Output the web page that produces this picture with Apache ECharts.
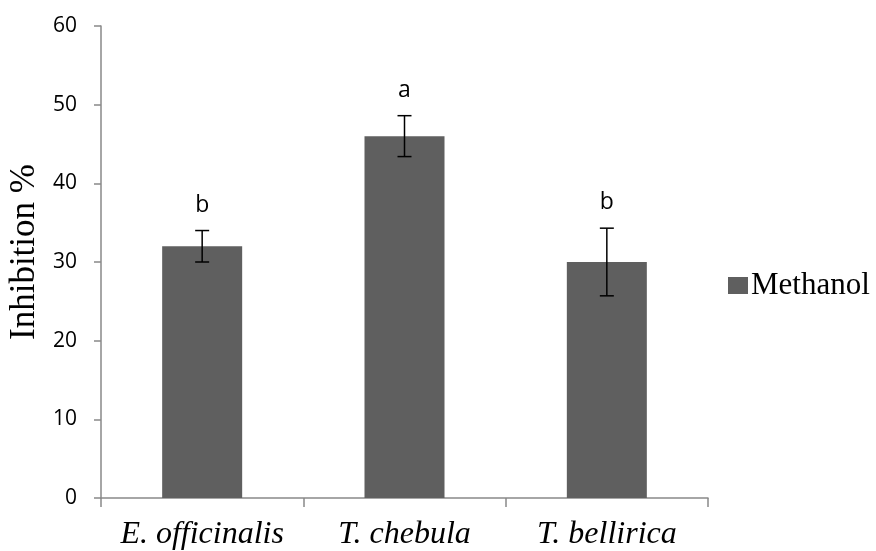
<!DOCTYPE html>
<html><head><meta charset="utf-8">
<script src="https://cdn.jsdelivr.net/npm/echarts@6/dist/echarts.min.js"></script>
<style>html,body{margin:0;padding:0;background:#fff}#c{width:876px;height:551px}</style>
</head><body><div id="c"></div>
<script>
const categories = ['E. officinalis', 'T. chebula', 'T. bellirica'];
const methanol = [32, 46, 30];
const errors = [2, 2.6, 4.3];
const letters = ['b', 'a', 'b'];
const yTicks = [0, 10, 20, 30, 40, 50, 60];

const chart = echarts.init(document.getElementById('c'));
const errData = methanol.map((v, i) => [i, v - errors[i], v + errors[i], letters[i]]);
chart.setOption({
  animation: false,
  grid: { left: 101, right: 168, top: 26, bottom: 53, containLabel: false, outerBoundsMode: 'none' },
  legend: {
    left: 728, top: 270, padding: 0, itemWidth: 20, itemHeight: 17, itemGap: 5,
    icon: 'rect',
    data: ['Methanol'],
    textStyle: { fontFamily: 'Liberation Serif', fontSize: 31, color: '#000', padding: [0, 0, 0, -2] }
  },
  xAxis: {
    type: 'category', data: categories,
    axisLine: { lineStyle: { color: '#898989', width: 1.5 } },
    axisTick: { show: true, length: 9, lineStyle: { color: '#898989', width: 1.5 } },
    axisLabel: { interval: 0, hideOverlap: false, fontFamily: 'Liberation Serif', fontStyle: 'italic', fontSize: 32, color: '#000', margin: 21 }
  },
  yAxis: {
    type: 'value', min: yTicks[0], max: yTicks[yTicks.length - 1], interval: 10,
    name: 'Inhibition %', nameLocation: 'middle', nameGap: 59,
    nameTextStyle: { fontFamily: 'Liberation Serif', fontSize: 35, color: '#000', padding: [0, 0, 0, 20] },
    axisLine: { show: true, lineStyle: { color: '#898989', width: 1.5 } },
    axisTick: { show: true, length: 7, lineStyle: { color: '#898989', width: 1.5 } },
    splitLine: { show: false },
    axisLabel: { fontFamily: 'Open Sans', fontSize: 21, color: '#000', margin: 24 }
  },
  series: [
    {
      name: 'Methanol', type: 'bar', data: methanol, barWidth: 80,
      itemStyle: { color: '#5f5f5f' }
    },
    {
      type: 'custom', data: errData, z: 10,
      renderItem: function (params, api) {
        const x = api.value(0);
        const lo = api.coord([x, api.value(1)]);
        const hi = api.coord([x, api.value(2)]);
        const hw = 7;
        const st = { stroke: '#000', lineWidth: 1.5 };
        return {
          type: 'group', children: [
            { type: 'line', shape: { x1: lo[0], y1: lo[1], x2: hi[0], y2: hi[1] }, style: st },
            { type: 'line', shape: { x1: lo[0] - hw, y1: lo[1], x2: lo[0] + hw, y2: lo[1] }, style: st },
            { type: 'line', shape: { x1: hi[0] - hw, y1: hi[1], x2: hi[0] + hw, y2: hi[1] }, style: st },
            { type: 'text', style: { text: api.value(3), x: hi[0], y: hi[1] - 14, textAlign: 'center', textVerticalAlign: 'bottom', fontFamily: 'Open Sans', fontSize: 23, fill: '#000' } }
          ]
        };
      }
    }
  ]
});
</script></body></html>
